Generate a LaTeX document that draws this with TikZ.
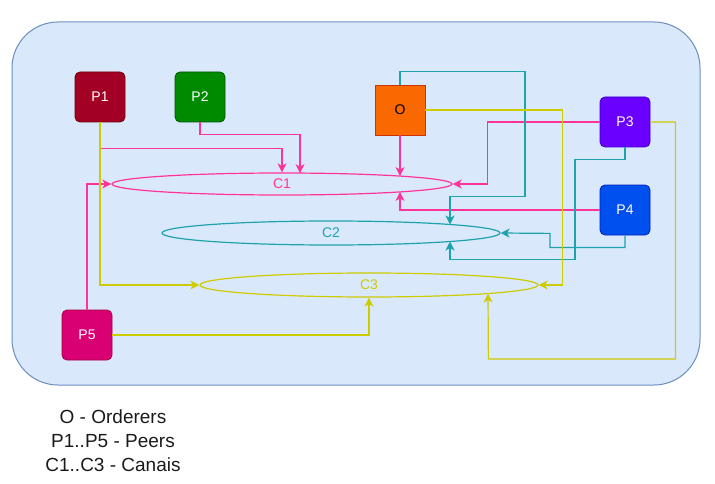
\documentclass[tikz,border=0pt]{standalone}
\usepackage{fontspec}
\setmainfont{Liberation Sans}
\usetikzlibrary{shapes.geometric,arrows.meta,calc}

\definecolor{boxfill}{HTML}{DAE8FC}
\definecolor{boxline}{HTML}{6C8EBF}
\definecolor{pinkline}{HTML}{FF3399}
\definecolor{tealline}{RGB}{30,162,172}
\definecolor{yellowline}{HTML}{CCCC00}

\begin{document}
\begin{tikzpicture}[x=1pt,y=-1pt,
    peer/.style={draw, rounded corners=5pt, minimum size=50pt, inner sep=0pt,
        line width=0.8pt, text=white, font=\fontsize{14}{16}\selectfont},
    canal/.style={ellipse, draw, inner sep=0pt, minimum width=340pt,
        line width=1.2pt, font=\fontsize{14}{16}\selectfont},
    link/.style={line width=1.2pt, -{Stealth[length=9pt,width=9pt,inset=2.5pt]}}]

        \useasboundingbox (0,0) rectangle (715,484);

        % Network
        \draw[fill=boxfill, draw=boxline, line width=1pt, rounded corners=46pt]
            (12,22) rectangle (700,385);

        % Peers and orderer
        \node[peer, fill={rgb,255:red,162;green,0;blue,37}, draw={rgb,255:red,111;green,0;blue,0}] (p1) at (100,97) {P1};
        \node[peer, fill={rgb,255:red,0;green,138;blue,0}, draw={rgb,255:red,0;green,87;blue,0}] (p2) at (200,97) {P2};
        \node[peer, rounded corners=0pt, text=black, fill={rgb,255:red,250;green,104;blue,0}, draw={rgb,255:red,199;green,53;blue,0}] (o) at (400,110) {O};
        \node[peer, fill={rgb,255:red,106;green,0;blue,255}, draw={rgb,255:red,55;green,0;blue,204}] (p3) at (625,122) {P3};
        \node[peer, fill={rgb,255:red,0;green,80;blue,239}, draw={rgb,255:red,0;green,29;blue,188}] (p4) at (625,210) {P4};
        \node[peer, fill={rgb,255:red,216;green,0;blue,115}, draw={rgb,255:red,165;green,0;blue,64}] (p5) at (87,335) {P5};

        % Channels
        \node[canal, minimum height=22pt, draw=pinkline, text=pinkline] (c1) at (282,184) {C1};
        \node[canal, minimum width=338pt, minimum height=24pt, draw=tealline, text=tealline] (c2) at (331,233) {C2};
        \node[canal, minimum width=338pt, minimum height=24pt, draw=yellowline, text=yellowline] (c3) at (369,285) {C3};

        % Points on the channel borders
        \coordinate (c1p2) at ($(c1.center)+(18,-10.9)$);
        \coordinate (c1o)  at ($(c1.center)+(118,-7.9)$);
        \coordinate (c1p4) at ($(c1.center)+(118,7.9)$);
        \coordinate (c2o)  at ($(c2.center)+(119,-8.5)$);
        \coordinate (c2p3) at ($(c2.center)+(119,8.5)$);
        \coordinate (c3p3) at ($(c3.center)+(119,8.5)$);

        % Channel C1
        \draw[link, pinkline] (p1.south) -- ++(0,26) -| (c1.north);
        \draw[link, pinkline] (p2.south) -- ++(0,12) -| (c1p2);
        \draw[link, pinkline] (o.south) -- (c1o);
        \draw[link, pinkline] (p3.west) -- ++(-112,0) |- (c1.east);
        \draw[link, pinkline] (p4.west) -| (c1p4);
        \draw[link, pinkline] (p5.north) |- (c1.west);

        % Channel C2
        \draw[link, tealline] (o.north) -- ++(0,-13) -| ++(125,125) -| (c2o);
        \draw[link, tealline] (p3.south) -- ++(0,12) -| ++(-50,100) -| (c2p3);
        \draw[link, tealline] (p4.south) -- ++(0,12) -| ++(-75,-14) -- (c2.east);

        % Channel C3
        \draw[link, yellowline] (p1.south) |- (c3.west);
        \draw[link, yellowline] (o.east) -| ++(137,175) -- (c3.east);
        \draw[link, yellowline] (p5.east) -| (c3.south);
        \draw[link, yellowline] (p3.east) -- ++(25,0) |- ++(-187,237) -- (c3p3);

        % Legend
        \node[align=center, text={rgb,255:red,26;green,26;blue,26}, font=\fontsize{19}{24}\selectfont] (legend) at (113,441)
            {O - Orderers\\P1..P5 - Peers\\C1..C3 - Canais};

\end{tikzpicture}
\end{document}
